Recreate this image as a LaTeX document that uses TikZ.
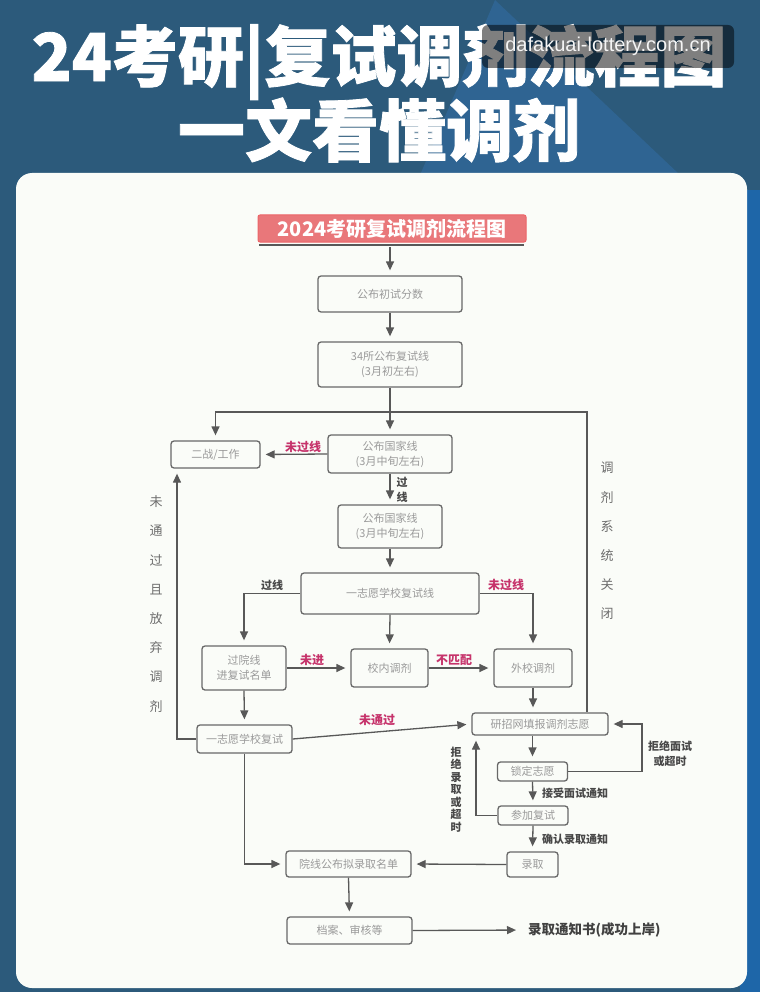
\documentclass[tikz,border=0pt]{standalone}
\usepackage{fontspec}
\setmainfont{Noto Sans CJK SC}
\newfontfamily\heavy{Noto Sans CJK SC}[BoldFeatures={FakeBold=1.2}]
\newfontfamily\wmfont{Liberation Sans}
\usetikzlibrary{arrows.meta}
\definecolor{bgc}{HTML}{2C5A7B}
\definecolor{bgl}{HTML}{2F6492}
\definecolor{edgec}{HTML}{1E66A8}
\definecolor{cardc}{HTML}{FAFCF8}
\definecolor{boxd}{HTML}{686868}
\definecolor{boxt}{HTML}{9A9A9A}
\definecolor{arrc}{HTML}{585858}
\definecolor{pinkc}{HTML}{C6336B}
\definecolor{darkl}{HTML}{484848}
\definecolor{hdrc}{HTML}{E9777A}
\tikzset{
  fbox/.style={draw=boxd, line width=1.3pt, rounded corners=3pt, fill=cardc, text=boxt,
    font=\fontsize{11}{15}\selectfont, align=center, inner sep=0pt},
  ln/.style={draw=arrc, line width=1.3pt},
  arr/.style={ln, -{Triangle[length=9pt,width=8pt]}, shorten >=5pt},
  plab/.style={text=pinkc, font=\fontsize{12}{14}\selectfont\bfseries, inner sep=0pt},
  dlab/.style={text=darkl, font=\fontsize{11}{14}\selectfont\bfseries, inner sep=0pt, align=center},
}
\begin{document}
\begin{tikzpicture}[x=1pt,y=-1pt]
\useasboundingbox (0,0) rectangle (760,992);
% background
\fill[bgc] (0,0) rectangle (760,992);
\fill[bgl] (495,0) -- (680,175) -- (420,175) -- cycle;
\fill[edgec] (740,190) rectangle (760,992);
% card
\fill[cardc, rounded corners=16pt] (16,173) rectangle (747,988);
% title
\node[text=white, font=\heavy\fontsize{66}{70}\selectfont\bfseries, inner sep=0pt] (t1) at (379,62) {24考研|复试调剂流程图};
\node[text=white, font=\heavy\fontsize{67}{70}\selectfont\bfseries, inner sep=0pt] (t2) at (379,130) {一文看懂调剂};
% watermark
\node[fill=black, fill opacity=0.5, text opacity=1, text=white!92!gray, rounded corners=6pt,
  minimum width=252pt, minimum height=43pt, inner sep=0pt, font=\wmfont\fontsize{20}{22}\selectfont] (wm) at (608,46.5) {dafakuai-lottery.com.cn};
% header
\node[fill=hdrc, draw=hdrc!85!red, line width=1pt, rounded corners=2pt, minimum width=268pt, minimum height=27pt,
  inner sep=0pt, text=white, font=\fontsize{20}{22}\selectfont\bfseries] (hd) at (392,228.5) {2024考研复试调剂流程图};
\draw[ln, line width=1.1pt] (259,245) -- (524,245);
\coordinate (ul) at (390,247);
% boxes
\node[fbox, minimum width=144pt, minimum height=36pt] (b1) at (390,294) {公布初试分数};
\node[fbox, minimum width=144pt, minimum height=45pt] (b2) at (390,364.5) {34所公布复试线\\(3月初左右)};
\node[fbox, minimum width=124pt, minimum height=38pt] (b3) at (390,454) {公布国家线\\(3月中旬左右)};
\node[fbox, minimum width=89pt, minimum height=27pt] (ez) at (215.5,454.5) {二战/工作};
\node[fbox, minimum width=104pt, minimum height=43pt] (b4) at (390,526.5) {公布国家线\\(3月中旬左右)};
\node[fbox, minimum width=178pt, minimum height=41pt] (b5) at (390,593.5) {一志愿学校复试线};
\node[fbox, minimum width=84pt, minimum height=44pt] (gy) at (244,668) {过院线\\进复试名单};
\node[fbox, minimum width=77pt, minimum height=38pt] (xn) at (389.5,668) {校内调剂};
\node[fbox, minimum width=78pt, minimum height=38pt] (wx) at (533,668) {外校调剂};
\node[fbox, minimum width=136pt, minimum height=22pt] (yz) at (540,724) {研招网填报调剂志愿};
\node[fbox, minimum width=95pt, minimum height=28pt] (fs) at (244.5,739) {一志愿学校复试};
\node[fbox, minimum width=70pt, minimum height=19pt] (sd) at (532.5,771.5) {锁定志愿};
\node[fbox, minimum width=70pt, minimum height=19pt] (cj) at (533,815.5) {参加复试};
\node[fbox, minimum width=51pt, minimum height=25pt] (lq) at (532.5,864.5) {录取};
\node[fbox, minimum width=125pt, minimum height=26pt] (mx) at (348.5,864) {院线公布拟录取名单};
\node[fbox, minimum width=125pt, minimum height=27pt] (da) at (349.5,930.5) {档案、审核等};
\node[text=darkl!90!black, font=\fontsize{13.5}{15}\selectfont\bfseries, inner sep=0pt, anchor=west] (tz) at (528,930) {录取通知书(成功上岸)};
% connectors
\draw[arr] (ul) -- (b1.north);
\draw[arr] (b1.south) -- (b2.north);
\draw[arr] (b2.south) -- (b3.north);
\coordinate (j1) at (390,412);
\coordinate (jr) at (587,412);
\draw[ln] (j1) -- (jr) -- (jr |- yz.north);
\draw[arr] (j1) -| (ez.north);
\draw[arr] (b3.west) -- (ez.east);
\draw[arr] (b3.south) -- (b4.north);
\draw[arr] (b4.south) -- (b5.north);
\draw[arr] (b5.west) -| (gy.north);
\draw[arr] (b5.east) -| (wx.north);
\draw[arr] (b5.south) -- (xn.north);
\draw[arr] (gy.east) -- (xn.west);
\draw[arr] (xn.east) -- (wx.west);
\draw[arr] (wx.south) -- (wx.south |- yz.north);
\draw[arr] (gy.south) -- (fs.north);
\draw[arr] (fs.east) -- (yz.west);
\coordinate (lc) at (177,739);
\draw[arr] (fs.west) -- (lc) -- (lc |- ez.south);
\draw[arr] (yz.south -| sd.north) -- (sd.north);
\coordinate (rc) at (642,771.5);
\draw[arr] (sd.east) -- (rc) |- (yz.east);
\draw[arr] (sd.south) -- (cj.north);
\coordinate (lc2) at (476,815.5);
\draw[arr] (cj.west) -- (lc2) -- (lc2 |- yz.south);
\draw[arr] (cj.south) -- (lq.north);
\draw[arr] (lq.west) -- (mx.east);
\coordinate (lc3) at (244.5,864);
\draw[arr] (fs.south) -- (lc3) -- (mx.west);
\draw[arr] (mx.south) -- (da.north);
\draw[arr, shorten >=12pt] (da.east) -- (tz.west);
% labels
\node[plab] (l1) at (303,447) {未过线};
\node[dlab, font=\fontsize{11}{15}\selectfont\bfseries] (l2) at (402,489.5) {过\\线};
\node[dlab] (l3) at (272,585) {过线};
\node[plab] (l4) at (506,585) {未过线};
\node[plab] (l5) at (312,660) {未进};
\node[plab] (l6) at (454,660) {不匹配};
\node[plab] (l7) at (377,720) {未通过};
\node[dlab] (l8) at (575,793) {接受面试通知};
\node[dlab] (l9) at (575,839) {确认录取通知};
\node[dlab, font=\fontsize{11}{14.5}\selectfont\bfseries] (l10) at (670,754) {拒绝面试\\或超时};
\node[dlab, font=\fontsize{11}{12.5}\selectfont\bfseries] (l11) at (456,789.5) {拒\\绝\\录\\取\\或\\超\\时};
\node[dlab, text=darkl!80, font=\fontsize{13}{29.2}\selectfont] (l12) at (156,604) {未\\通\\过\\且\\放\\弃\\调\\剂};
\node[dlab, text=darkl!80, font=\fontsize{13}{29.2}\selectfont] (l13) at (607,541) {调\\剂\\系\\统\\关\\闭};
\end{tikzpicture}
\end{document}
